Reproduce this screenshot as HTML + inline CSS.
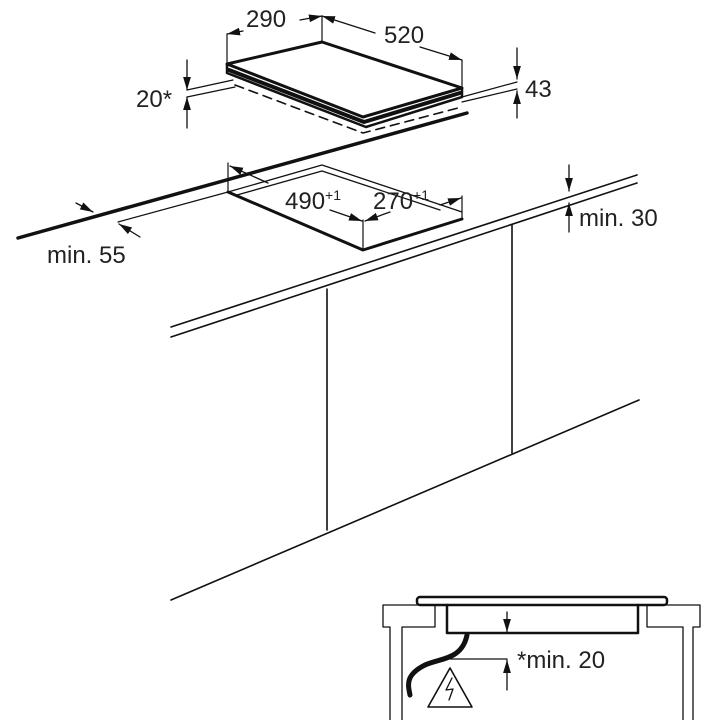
<!DOCTYPE html>
<html><head><meta charset="utf-8"><style>html,body{margin:0;padding:0;background:#fff}svg{display:block}text{font-family:"Liberation Sans",sans-serif;fill:#222}</style></head>
<body>
<svg width="720" height="720" viewBox="0 0 720 720" xmlns="http://www.w3.org/2000/svg">
<defs>
<marker id="a" viewBox="0 0 10 10" refX="10" refY="5" markerWidth="10" markerHeight="10" orient="auto-start-reverse"><path d="M0,2 L10,5 L0,8 z" fill="#111"/></marker>
</defs>
<g stroke="#111" fill="none" stroke-linecap="round" stroke-linejoin="round">
<!-- Hob -->
<path d="M227,64 L322,42 L462,88 L363,117 Z" stroke-width="3"/>
<path d="M227,64 L227,73 L366,127 L462,97 L462,88" stroke-width="2.5"/>
<path d="M229,70 L364,122 L460,93" stroke-width="4"/>
<path d="M235,85 L363,133 L458,108" stroke-width="1.6" stroke-dasharray="9,6"/>
<!-- hob dims -->
<path d="M227,64 V34 M322,42 V16 M462,88 V60" stroke-width="1.2"/>
<path d="M243,31 L227,34" stroke-width="1.3" marker-end="url(#a)"/>
<path d="M300,20 L322,16" stroke-width="1.3" marker-end="url(#a)"/>
<path d="M375,33 L322,16" stroke-width="1.3" marker-end="url(#a)"/>
<path d="M420,47 L462,60" stroke-width="1.3" marker-end="url(#a)"/>
<!-- 20* -->
<path d="M187,90 L233,80 M187,97 L235,87" stroke-width="1.2"/>
<path d="M187,60 V90" stroke-width="1.3" marker-end="url(#a)"/>
<path d="M187,128 V97" stroke-width="1.3" marker-end="url(#a)"/>
<!-- 43 -->
<path d="M462,97 L517,82 M462,102 L517,89" stroke-width="1.2"/>
<path d="M517,48 V79" stroke-width="1.3" marker-end="url(#a)"/>
<path d="M517,118 V91" stroke-width="1.3" marker-end="url(#a)"/>
<!-- worktop back edge thick -->
<path d="M18,238 L467,113" stroke-width="3.5"/>
<!-- cutout -->
<path d="M228,192 L363,250 L462,219" stroke-width="3"/>
<path d="M228,192 L322,165 L462,212 M237,195 L322,171 L440,210" stroke-width="1.3"/>
<path d="M228,192 V163 M462,219 V196 M363,250 V220" stroke-width="1.2"/>
<path d="M118,222 L228,192" stroke-width="1.2"/>
<path d="M230,166 L268,183" stroke-width="1.3" marker-start="url(#a)"/>
<path d="M330,210 L362,221" stroke-width="1.3" marker-end="url(#a)"/>
<path d="M390,212 L365,221" stroke-width="1.3" marker-end="url(#a)"/>
<path d="M440,205 L461,198" stroke-width="1.3" marker-end="url(#a)"/>
<!-- min 55 arrows -->
<path d="M76,203 L93,212" stroke-width="1.3" marker-end="url(#a)"/>
<path d="M140,237 L119,224" stroke-width="1.3" marker-end="url(#a)"/>
<!-- worktop front -->
<path d="M171,327 L637,175 M171,337 L637,183" stroke-width="1.6"/>
<path d="M327,289 V530 M512,225 V453" stroke-width="1.6"/>
<path d="M171,600 L639,400" stroke-width="1.6"/>
<!-- min 30 -->
<path d="M569,165 V191" stroke-width="1.3" marker-end="url(#a)"/>
<path d="M569,232 V203" stroke-width="1.3" marker-end="url(#a)"/>
<!-- inset -->
<rect x="417" y="597" width="250" height="8" rx="3" stroke-width="2.5"/>
<path d="M447,605 V633 H638 V605" stroke-width="2.5"/>
<path d="M390,720 V627 H383 V605 H435 V627 H402 V720" stroke-width="1.3"/>
<path d="M683,720 V627 H647 V605 H700 V627 H693 V720" stroke-width="1.3"/>
<path d="M507,612 V632" stroke-width="1.3" marker-end="url(#a)"/>
<path d="M507,690 V660" stroke-width="1.3" marker-end="url(#a)"/>
<path d="M450,659 H507" stroke-width="1.2"/>
<path d="M467,635 C462,660 440,658 425,665 C405,675 408,685 410,695" stroke-width="5"/>
<path d="M428,707 L450,668 L472,707 Z" stroke-width="1.6"/>
<path d="M452,678 L446,690 L453,689 L449,700" stroke-width="1.3"/>
</g>
<g font-size="24">
<text x="246" y="27">290</text>
<text x="384" y="43">520</text>
<text x="136" y="107">20*</text>
<text x="525" y="97">43</text>
<text x="285" y="209">490<tspan font-size="14" dy="-9">+1</tspan></text>
<text x="373" y="209">270<tspan font-size="14" dy="-9">+1</tspan></text>
<text x="47" y="263">min. 55</text>
<text x="579" y="226">min. 30</text>
<text x="517" y="668">*min. 20</text>
</g>
</svg>
</body></html>
